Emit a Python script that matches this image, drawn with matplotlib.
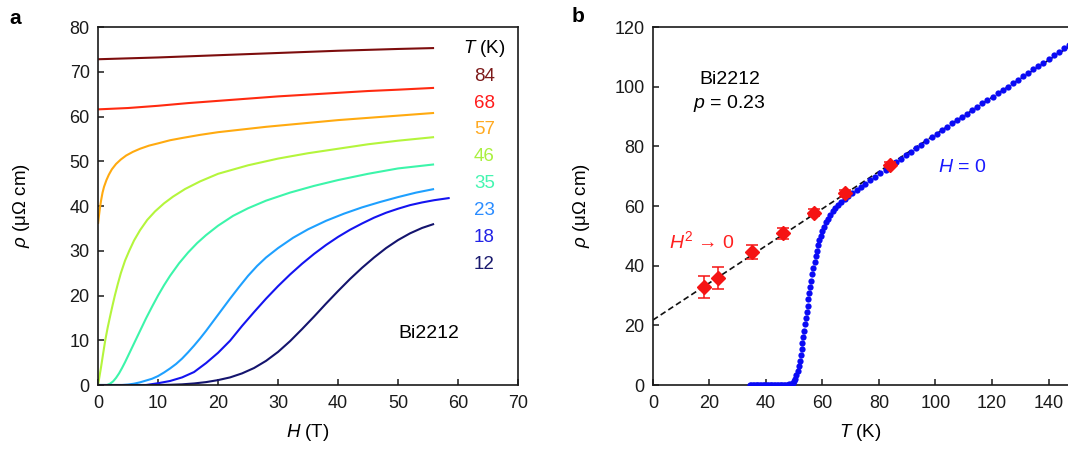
import matplotlib
matplotlib.use("Agg")
from matplotlib import pyplot as plt

plt.rcParams['font.family'] = ['Liberation Sans', 'DejaVu Sans']
plt.rcParams['mathtext.fontset'] = 'custom'
plt.rcParams['mathtext.rm'] = 'Liberation Sans'
plt.rcParams['mathtext.it'] = 'Liberation Sans:italic'

# ---- panel a: rho(H) at fixed temperatures ----
temps = [84, 68, 57, 46, 35, 23, 18, 12]
colors = ['#7d0d0d', '#ff2a10', '#ffaa10', '#b4f53c', '#3cf5aa', '#1ea0ff', '#1414f0', '#14146e']
label_colors = ['#7d1a1a', '#ff1a1a', '#ffaa22', '#aaf040', '#44f5b0', '#2a8cff', '#2222e6', '#1a1a6e']

h84 = [0, 10, 20, 30, 40, 50, 56]
r84 = [72.8, 73.2, 73.7, 74.2, 74.7, 75.1, 75.3]
h68 = [0, 5, 10, 15, 20, 25, 30, 35, 40, 45, 50, 56]
r68 = [61.6, 61.9, 62.4, 63.0, 63.5, 64.0, 64.5, 64.9, 65.3, 65.7, 66.0, 66.4]
h57 = [0, 0.15, 0.3, 0.5, 0.75, 1.0, 1.4, 1.8, 2.3, 3.0, 3.8, 4.7, 5.8, 7.0, 8.5, 10,
       12, 14, 17, 20, 24, 28, 32, 36, 40, 44, 48, 52, 56]
r57 = [36, 37.8, 39.4, 41.2, 43.0, 44.3, 45.8, 47.0, 48.2, 49.4, 50.4, 51.3, 52.1, 52.8, 53.5, 54.0,
       54.7, 55.2, 55.9, 56.5, 57.1, 57.7, 58.2, 58.7, 59.2, 59.6, 60.0, 60.4, 60.8]
h46 = [0, 0.25, 0.5, 0.8, 1.2, 1.6, 2.0, 2.4, 2.8, 3.3, 3.8, 4.5, 5.2, 6.0, 7.0, 8.2, 9.5,
       11, 12.5, 14.5, 17, 20, 25, 30, 35, 40, 45, 50, 56]
r46 = [0, 2.0, 4.0, 6.6, 10.0, 12.8, 15.3, 17.7, 20.0, 22.6, 25.0, 27.8, 30.0, 32.3, 34.6, 36.9, 38.8,
       40.6, 42.1, 43.8, 45.5, 47.2, 49.1, 50.6, 51.8, 52.8, 53.8, 54.6, 55.4]
h35 = [0, 1.5, 2.0, 2.5, 3.0, 3.5, 4.0, 4.5, 5.0, 5.5, 6.0, 7.0, 8.0, 9.0, 10.0, 11.0,
       12.0, 13.5, 15, 16.5, 18, 20, 22.5, 25, 28, 32, 36, 40, 45, 50, 56]
r35 = [0, 0, 0.3, 0.8, 1.6, 2.6, 3.8, 5.1, 6.5, 7.9, 9.3, 12.1, 14.9, 17.5, 20.0, 22.3,
       24.4, 27.2, 29.6, 31.7, 33.5, 35.6, 37.8, 39.5, 41.2, 43.0, 44.5, 45.8, 47.2, 48.4, 49.3]
h23 = [0, 4, 5, 6, 7, 8, 9, 10, 11, 12, 13, 14, 15, 16, 17, 18, 19, 20, 21, 22, 23.5,
       25, 26.5, 28, 30, 32.5, 35, 38, 41, 44, 47, 50, 53, 56]
r23 = [0, 0, 0.1, 0.3, 0.6, 1.0, 1.4, 2.0, 2.8, 3.7, 4.7, 5.9, 7.3, 8.8, 10.4, 12.1, 13.9, 15.7, 17.5, 19.3, 21.9,
       24.4, 26.6, 28.5, 30.6, 32.9, 34.8, 36.7, 38.3, 39.7, 40.9, 42.0, 43.0, 43.8]
h18 = [0, 8, 10, 12, 14, 16, 18, 20, 22, 24, 26, 28, 30, 32, 34, 36, 38, 40, 42, 44, 46,
       48, 50, 52, 54, 56, 58.6]
r18 = [0, 0, 0.4, 0.9, 1.7, 2.9, 4.9, 7.2, 9.9, 13.2, 16.3, 19.3, 22.1, 24.7, 27.1, 29.3, 31.3, 33.1, 34.7, 36.1, 37.4,
       38.5, 39.4, 40.2, 40.8, 41.3, 41.8]
h12 = [0, 10, 12, 14, 16, 18, 20, 22, 24, 26, 28, 30, 32, 34, 36, 38, 40, 42, 44, 46, 48,
       50, 52, 54, 56]
r12 = [0, 0, 0.05, 0.15, 0.35, 0.65, 1.1, 1.7, 2.6, 3.8, 5.4, 7.4, 9.8, 12.5, 15.3, 18.2, 21.0, 23.7, 26.2, 28.5, 30.6,
       32.4, 33.9, 35.1, 36.0]
curves = [(h84, r84), (h68, r68), (h57, r57), (h46, r46),
          (h35, r35), (h23, r23), (h18, r18), (h12, r12)]

# ---- panel b: rho(T) ----
t_zero = [34.3, 34.8, 35.3, 35.8, 36.3, 36.8, 37.3, 37.8, 38.3, 38.8, 39.3, 39.8, 40.3, 40.8,
          41.3, 41.8, 42.3, 42.8, 43.3, 43.8, 44.3, 44.8, 45.3, 45.8, 46.3, 46.8, 47.3, 47.8, 48.3]
r_zero = [0, 0, 0, 0, 0, 0, 0, 0, 0, 0, 0, 0, 0, 0,
          0, 0, 0, 0, 0, 0, 0, 0, 0, 0, 0, 0, 0, 0.1, 0.2]
t_trans = [48.9, 49.4, 49.9, 50.4, 50.8, 51.2, 51.6, 52.0, 52.3, 52.6, 52.9, 53.2, 53.5, 53.8,
           54.1, 54.4, 54.7, 55.0, 55.3, 55.7, 56.0, 56.4, 56.8, 57.2, 57.6, 58.0, 58.4, 58.8,
           59.3, 59.9, 60.5, 61.2, 61.9, 62.7, 63.6, 64.6, 65.6, 66.7, 67.9, 69.2, 70.6, 72.1,
           73.6, 75.2, 76.9, 78.7, 80.5, 82.4, 84.2]
r_trans = [0.3, 0.6, 1.2, 2.1, 3.3, 4.7, 6.3, 8.1, 10.0, 12.0, 14.0, 16.1, 18.2, 20.3,
           22.4, 24.5, 26.6, 28.7, 30.8, 32.9, 35.0, 37.1, 39.2, 41.2, 43.1, 45.0, 46.8, 48.5,
           50.1, 51.7, 53.1, 54.5, 55.8, 57.0, 58.2, 59.3, 60.4, 61.4, 62.4, 63.4, 64.4, 65.4,
           66.4, 67.5, 68.6, 69.8, 71.0, 72.2, 73.4]
t_norm = [86.0, 87.8, 89.6, 91.4, 93.2, 95.0, 96.8, 98.6, 100.4, 102.2, 104.0, 105.8, 107.6,
          109.4, 111.2, 113.0, 114.8, 116.6, 118.4, 120.2, 122.0, 123.8, 125.6, 127.4, 129.2,
          131.0, 132.8, 134.6, 136.4, 138.2, 140.0, 141.8, 143.6, 145.4, 147.2, 149.0]
r_norm = [74.6, 75.8, 77.0, 78.2, 79.4, 80.6, 81.8, 83.0, 84.2, 85.4, 86.5, 87.7, 88.8,
          89.9, 91.0, 92.2, 93.3, 94.4, 95.5, 96.7, 97.8, 98.9, 100.0, 101.2, 102.3,
          103.5, 104.6, 105.8, 106.9, 108.1, 109.3, 110.5, 111.7, 112.9, 114.1, 115.3]

t_ext = [18, 23, 35, 46, 57, 68, 84]
r_ext = [32.8, 35.9, 44.5, 50.8, 57.8, 64.2, 73.8]
r_err = [3.7, 3.6, 2.4, 2.0, 1.2, 1.2, 0.8]

fit_t = [0, 150]
fit_r = [21.8, 115.1]

fig = plt.figure(figsize=(10.68, 4.49), dpi=100)
ax1 = fig.add_axes([0.0918, 0.1425, 0.3933, 0.7973])
ax2 = fig.add_axes([0.6114, 0.1425, 0.3886, 0.7973])

for ax in (ax1, ax2):
    ax.tick_params(direction='in', length=4.5, width=1.1, labelsize=13,
                   colors='#1a1a1a')
    ax.tick_params(axis='x', pad=7)
    ax.tick_params(axis='y', pad=6)
    for s in ax.spines.values():
        s.set_linewidth(1.2)
        s.set_color('#1a1a1a')

# panel a
for (h, r), c in zip(curves, colors):
    ax1.plot(h, r, color=c, lw=1.5, solid_capstyle='butt')
ax1.set_xlim(0, 70)
ax1.set_ylim(0, 80)
ax1.set_xticks(range(0, 71, 10))
ax1.set_yticks(range(0, 81, 10))
ax1.set_xlabel(r'$\mathit{H}$ (T)', fontsize=13.5, va='center')
ax1.set_ylabel(r'$\mathit{\rho}$ (μΩ cm)', fontsize=13.5, va='center')
ax1.xaxis.set_label_coords(0.5, -0.134)
ax1.yaxis.set_label_coords(-0.183, 0.5)
ax1.text(64.4, 75.1, r'$\mathit{T}$ (K)', fontsize=13.5, ha='center', va='center')
for i, (tk, lc) in enumerate(zip(temps, label_colors)):
    ax1.text(64.4, 69.0 - 6.0 * i, str(tk), color=lc, fontsize=13.5, ha='center', va='center')
ax1.text(55.2, 11.6, 'Bi2212', fontsize=14, ha='center', va='center')

# panel b
ax2.plot(fit_t, fit_r, color='#111111', ls=(0, (3.5, 2)), lw=1.2, zorder=2)
ax2.plot(t_zero + t_trans + t_norm, r_zero + r_trans + r_norm, ls='none', marker='o',
         ms=4.5, color='#0a0af5', mec='none', zorder=3)
ax2.errorbar(t_ext, r_ext, yerr=r_err, fmt='D', ms=7.5, color='#f51414', ecolor='#f51414',
             elinewidth=1.1, capsize=4, capthick=1.1, zorder=4)
ax2.set_xlim(0, 146.9)
ax2.set_ylim(0, 120)
ax2.set_xticks(range(0, 141, 20))
ax2.set_yticks(range(0, 121, 20))
ax2.spines['right'].set_visible(False)
ax2.set_xlabel(r'$\mathit{T}$ (K)', fontsize=13.5, va='center')
ax2.set_ylabel(r'$\mathit{\rho}$ (μΩ cm)', fontsize=13.5, va='center')
ax2.xaxis.set_label_coords(0.5, -0.134)
ax2.yaxis.set_label_coords(-0.173, 0.5)
ax2.text(27.1, 102.5, 'Bi2212', fontsize=14, ha='center', va='center')
ax2.text(27.1, 94.4, r'$\mathit{p}$ = 0.23', fontsize=14, ha='center', va='center')
ax2.text(109.5, 72.8, r'$\mathit{H}$ = 0', fontsize=14, color='#1a1aff', ha='center', va='center')
ax2.text(17.5, 48.2, r'$\mathit{H}^2$ → 0', fontsize=14, color='#ff2020', ha='center', va='center')

fig.text(15.5 / 1068, 1 - 18 / 449, 'a', fontsize=15, fontweight='bold', ha='center', va='center')
fig.text(577.8 / 1068, 1 - 17 / 449, 'b', fontsize=15, fontweight='bold', ha='center', va='center')

fig.savefig('out.png', dpi=100)
